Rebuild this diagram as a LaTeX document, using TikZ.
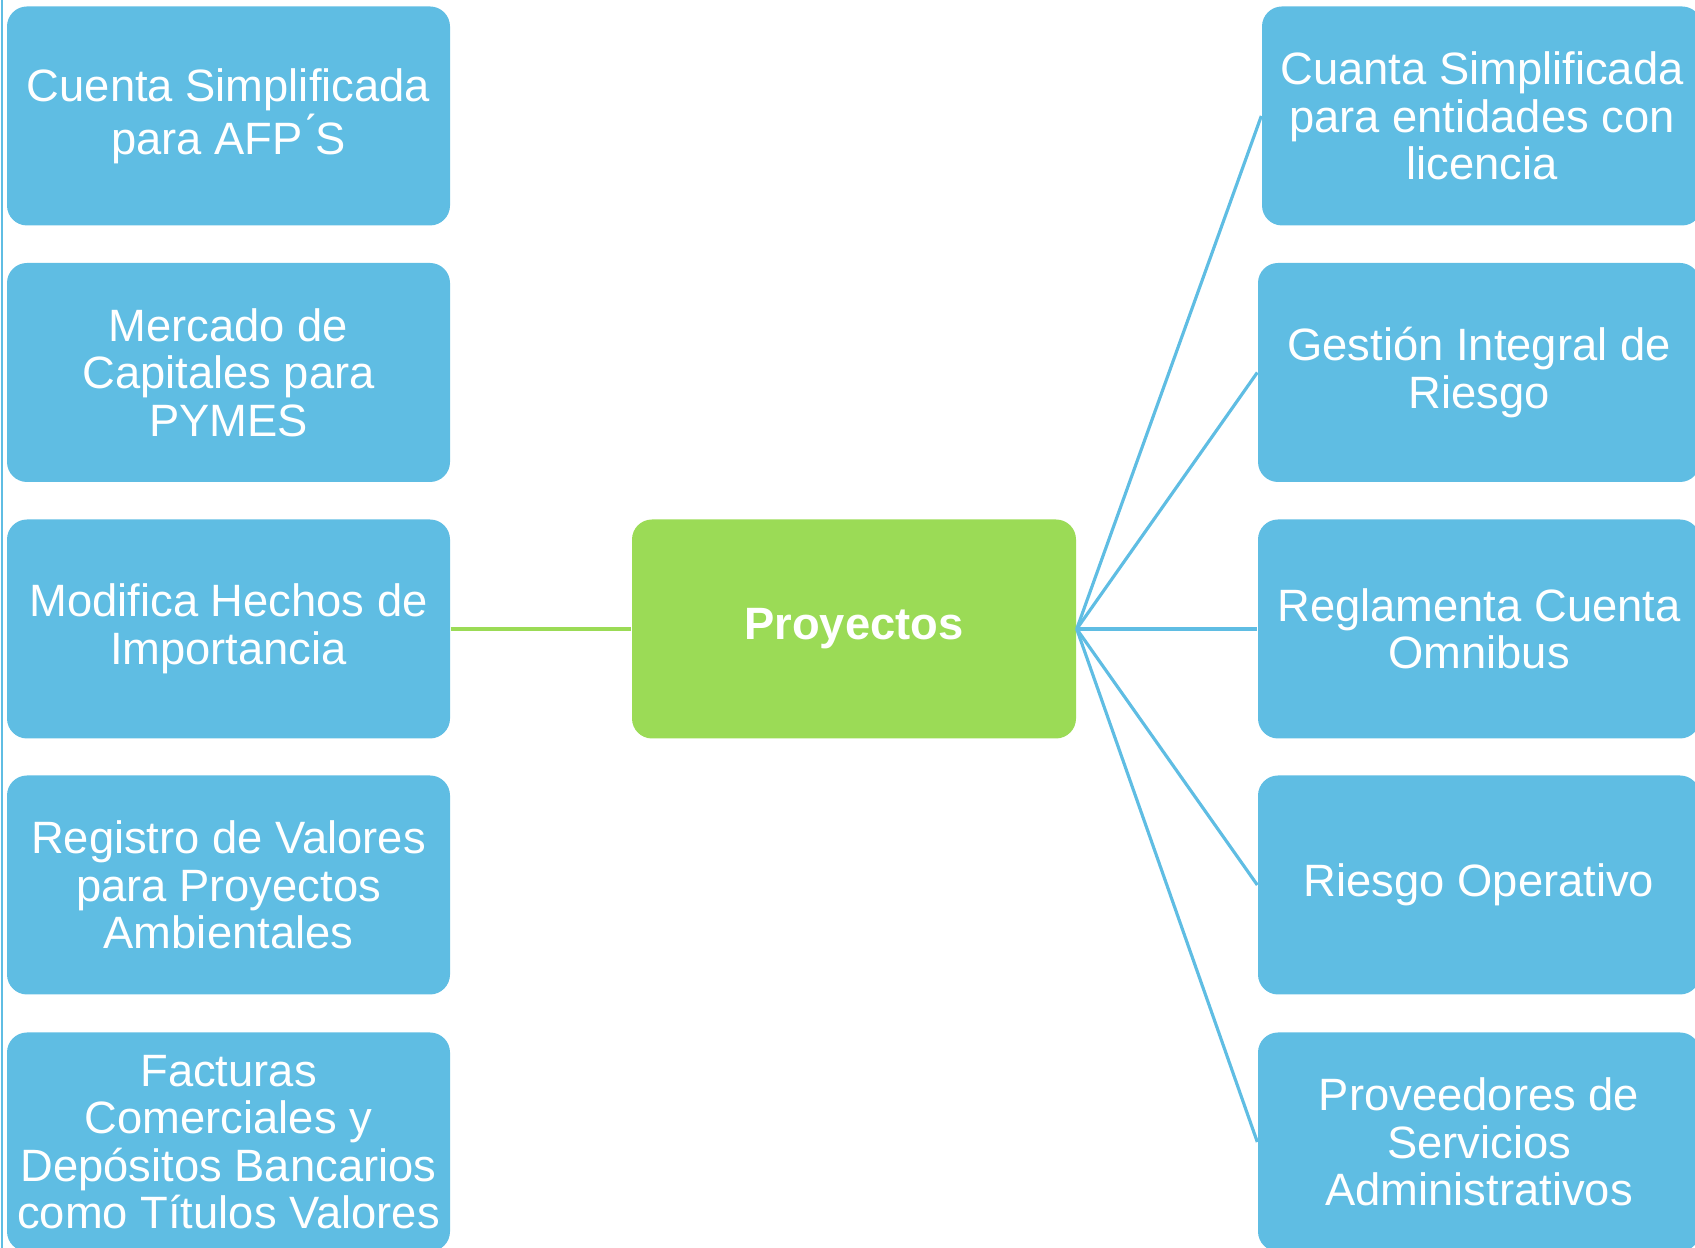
\documentclass[tikz,border=0pt]{standalone}
\usepackage{fontspec}
\setmainfont{Liberation Sans}
\definecolor{boxblue}{RGB}{95,189,227}
\definecolor{boxgreen}{RGB}{155,219,86}

\begin{document}
\begin{tikzpicture}[
		item/.style={fill=boxblue, rounded corners=0.2cm, minimum width=4.43cm, minimum height=2.19cm, inner sep=0pt, align=center, text=white, font=\fontsize{12.9}{13.5}\selectfont},
		hub/.style={item, fill=boxgreen, minimum width=4.44cm, font=\fontsize{12.9}{13.5}\selectfont\bfseries},
		link/.style={boxblue, line width=0.9pt}]
		\useasboundingbox (0, 0) rectangle (16.95, 12.48);
		\draw [boxblue, line width=0.6pt] (0.02, 0) -- (0.02, 12.48);
		\node[item] (afp) at (2.285, 11.32) {Cuenta Simplificada\\para AFP\'{}S};
		\node[item] (pymes) at (2.285, 8.755) {Mercado de\\Capitales para\\PYMES};
		\node[item] (hechos) at (2.285, 6.19) {Modifica Hechos de\\Importancia};
		\node[item] (registro) at (2.285, 3.63) {Registro de Valores\\para Proyectos\\Ambientales};
		\node[item] (facturas) at (2.285, 1.06) {Facturas\\Comerciales y\\Depósitos Bancarios\\como Títulos Valores};
		\node[hub] (proyectos) at (8.54, 6.19) {Proyectos};
		\node[item, minimum width=4.40cm] (licencia) at (14.82, 11.32) {Cuanta Simplificada\\para entidades con\\licencia};
		\node[item, minimum width=4.42cm] (riesgo) at (14.79, 8.755) {Gestión Integral de\\Riesgo};
		\node[item, minimum width=4.42cm] (omnibus) at (14.79, 6.19) {Reglamenta Cuenta\\Omnibus};
		\node[item, minimum width=4.42cm] (operativo) at (14.79, 3.63) {Riesgo Operativo};
		\node[item, minimum width=4.42cm] (proveedores) at (14.79, 1.06) {Proveedores de\\Servicios\\Administrativos};
		\draw [boxgreen, line width=0.9pt] (hechos.east) -- (proyectos.west);
		\draw [link] (proyectos.east) -- (licencia.west);
		\draw [link] (proyectos.east) -- (riesgo.west);
		\draw [link] (proyectos.east) -- (omnibus.west);
		\draw [link] (proyectos.east) -- (operativo.west);
		\draw [link] (proyectos.east) -- (proveedores.west);
	\end{tikzpicture}
\end{document}
